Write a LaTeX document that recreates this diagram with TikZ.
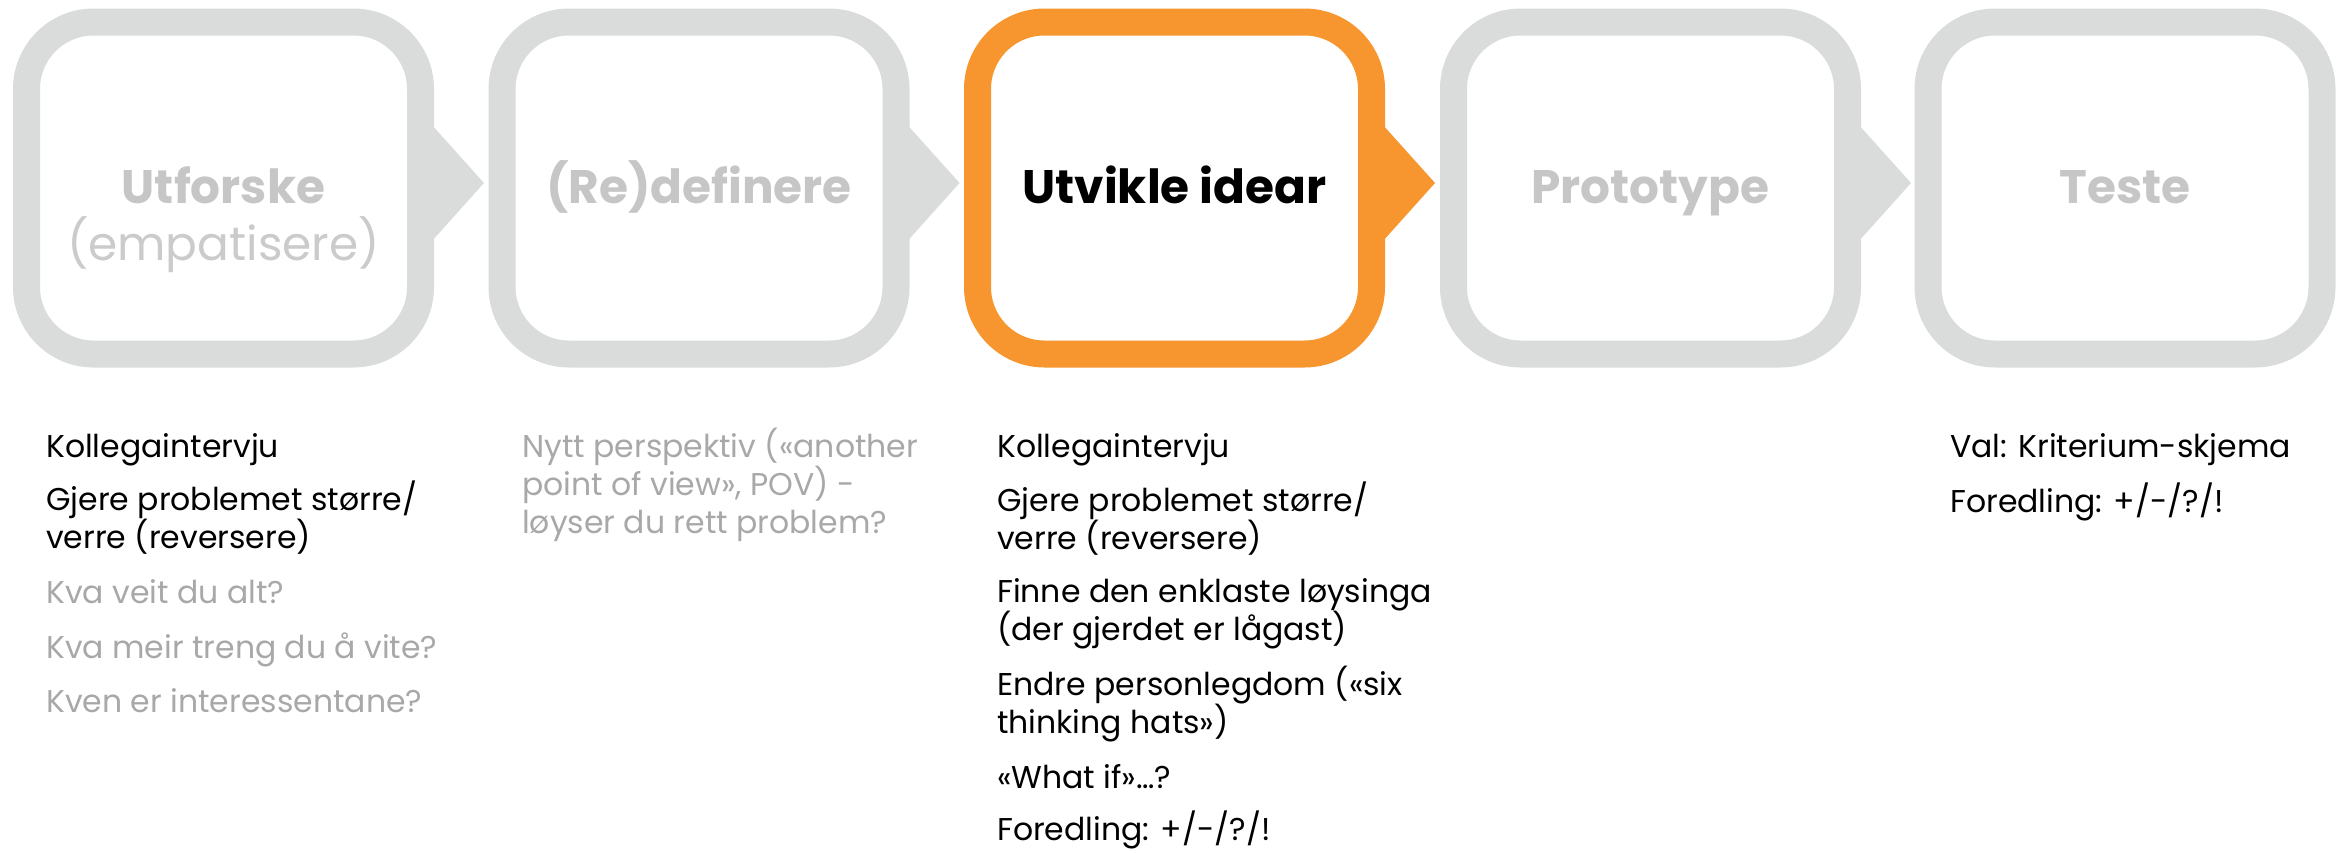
\documentclass[tikz,border=0pt]{standalone}
\usepackage{fontspec}
\setmainfont{Poppins}
\usetikzlibrary{calc}
\definecolor{boxgray}{HTML}{DADBDB}
\definecolor{boxorange}{HTML}{F7962F}
\definecolor{titlegray}{HTML}{C6C6C6}
\definecolor{subgray}{HTML}{CBCBCB}
\definecolor{itemgray}{HTML}{A8A8A8}
\tikzset{
  stepbox/.style={draw=#1, line width=27pt, rounded corners=67pt, fill=white,
    minimum width=394pt, minimum height=332pt, inner sep=0pt, outer sep=0pt},
  steptitle/.style={anchor=base, inner sep=0pt, font=\fontsize{47}{56}\selectfont\bfseries},
  stepsub/.style={anchor=base, inner sep=0pt, font=\fontsize{47}{56}\selectfont},
  item/.style={anchor=base west, inner sep=0pt, align=left, font=\fontsize{31.5}{38}\selectfont},
}
\newcommand{\steparrow}[2]{%
  \fill[#2] ($(#1.east)+(-6.5pt,83pt)$) -- ($(#1.east)+(63.5pt,5pt)$) -- ($(#1.east)+(-6.5pt,-73pt)$) -- cycle;}
\begin{document}
\begin{tikzpicture}[x=1pt,y=-1pt]
\useasboundingbox (0,0) rectangle (2348,852);
% boxes
\node[stepbox=boxgray]   (b1) at (223.5,188) {};
\node[stepbox=boxgray]   (b2) at (699,188) {};
\node[stepbox=boxorange] (b3) at (1174.5,188) {};
\node[stepbox=boxgray]   (b4) at (1650.5,188) {};
\node[stepbox=boxgray]   (b5) at (2125,188) {};
% arrows
\steparrow{b1}{boxgray}
\steparrow{b2}{boxgray}
\steparrow{b3}{boxorange}
\steparrow{b4}{boxgray}
% titles
\node[steptitle, text=titlegray] (t1) at (223.5,203) {Utforske};
\node[stepsub, text=subgray] (t1b) at (223.5,260) {(empatisere)};
\node[steptitle, text=titlegray] (t2) at (699,203) {(Re)definere};
\node[steptitle, text=black] (t3) at (1174.5,203) {Utvikle idear};
\node[steptitle, text=titlegray] (t4) at (1650.5,203) {Prototype};
\node[steptitle, text=titlegray] (t5) at (2125,203) {Teste};
% column 1 (multi-line nodes are anchored at their last baseline)
\node[item] (c1a) at (46,457) {Kollegaintervju};
\node[item] (c1b) at (46,548) {Gjere problemet større/\\verre (reversere)};
\node[item, text=itemgray] (c1c) at (46,603) {Kva veit du alt?};
\node[item, text=itemgray] (c1d) at (46,658) {Kva meir treng du å vite?};
\node[item, text=itemgray] (c1e) at (46,712) {Kven er interessentane?};
% column 2
\node[item, text=itemgray] (c2a) at (522,533) {Nytt perspektiv («another\\point of view», POV) -\\løyser du rett problem?};
% column 3
\node[item] (c3a) at (997,457) {Kollegaintervju};
\node[item] (c3b) at (997,549) {Gjere problemet større/\\verre (reversere)};
\node[item] (c3c) at (997,640) {Finne den enklaste løysinga\\(der gjerdet er lågast)};
\node[item] (c3d) at (997,733) {Endre personlegdom («six\\thinking hats»)};
\node[item] (c3e) at (997,788) {«What if»…?};
\node[item] (c3f) at (997,840) {Foredling: +/-/?/!};
% column 5
\node[item] (c5a) at (1950,457) {Val: Kriterium-skjema};
\node[item] (c5b) at (1950,512) {Foredling: +/-/?/!};
\end{tikzpicture}
\end{document}
